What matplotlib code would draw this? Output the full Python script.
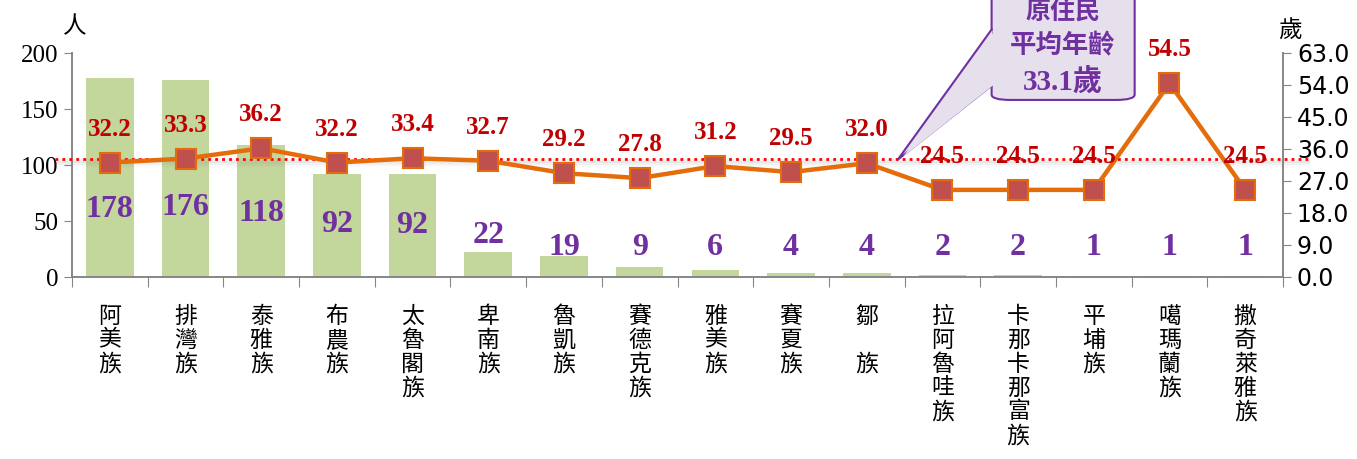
import matplotlib
matplotlib.use('Agg')
import matplotlib.pyplot as plt
from matplotlib.patches import FancyBboxPatch, Polygon

# data
tribes = ['阿美族', '排灣族', '泰雅族', '布農族', '太魯閣族', '卑南族', '魯凱族', '賽德克族',
          '雅美族', '賽夏族', '鄒\u3000族', '拉阿魯哇族', '卡那卡那富族', '平埔族', '噶瑪蘭族', '撒奇萊雅族']
people = [178, 176, 118, 92, 92, 22, 19, 9, 6, 4, 4, 2, 2, 1, 1, 1]
avg_age = [32.2, 33.3, 36.2, 32.2, 33.4, 32.7, 29.2, 27.8, 31.2, 29.5, 32.0, 24.5, 24.5, 24.5, 54.5, 24.5]
overall_avg = 33.1
left_ticks = [0, 50, 100, 150, 200]
right_ticks = [0, 9, 18, 27, 36, 45, 54, 63]

# where the purple count labels sit (left axis units), layout only
label_y = [60, 62, 57, 47, 46, 37, 26, 26, 26, 26, 26, 26, 26, 26, 26, 26]

CJK = ['Noto Sans CJK TC', 'DejaVu Sans']
SERIF_CJK = ['Liberation Serif', 'Noto Sans CJK TC']
SERIF = 'Liberation Serif'
purple = '#7030a0'
darkred = '#c00000'

fig = plt.figure(figsize=(13.57, 4.59), dpi=100)
ax = fig.add_axes([72/1357, 1 - 277/459, (1283-72)/1357, (277-53)/459])
ax2 = ax.twinx()

x = list(range(len(tribes)))
ax.bar(x, people, width=0.63, color='#c3d69b', zorder=1)
for i in x:
    ax.text(i, label_y[i], str(people[i]), ha='center', va='center', color=purple,
            fontsize=23, fontweight='bold', family=SERIF, zorder=5)

ax.set_xlim(-0.5, len(tribes) - 0.5)
ax.set_ylim(0, 200)
ax.set_yticks(left_ticks)
ax.set_yticklabels([str(t) for t in left_ticks], family=SERIF, fontsize=18)
ax.set_xticks([i - 0.5 for i in range(len(tribes) + 1)])
ax.set_xticklabels([])
ax.set_xticks(x, minor=True)
ax.set_xticklabels(['\n'.join(t) for t in tribes], minor=True, family=CJK, fontsize=16.5,
                   va='top', linespacing=1.05)
ax.tick_params(axis='x', which='minor', length=0, pad=20)
ax.tick_params(axis='x', which='major', length=7, color='#868686')
ax.tick_params(axis='y', length=6, color='#868686', pad=4)

ax2.set_ylim(0, 63)
ax2.set_yticks(right_ticks)
ax2.set_yticklabels(['%.1f' % t for t in right_ticks], family='DejaVu Sans', fontsize=17)
ax2.tick_params(axis='y', length=6, color='#868686', pad=4)

for a in (ax, ax2):
    a.spines['top'].set_visible(False)
    for s in ('left', 'right', 'bottom'):
        a.spines[s].set_color('#868686')
        a.spines[s].set_linewidth(1.2)

# average line with faint shadow
for k, al in enumerate([0.10, 0.07, 0.04]):
    ax2.plot([-0.72, 15.86], [overall_avg - 0.6 - 0.5*k]*2, color='gray', lw=3, alpha=al,
             clip_on=False, zorder=2, solid_capstyle='butt')
ax2.plot([-0.72, 15.86], [overall_avg, overall_avg], color='#ff0000', lw=2, ls=(0, (1, 1.5)),
         clip_on=False, zorder=3)

ax2.plot(x, avg_age, color='#e46c0a', lw=3.2, marker='s', markersize=14.5,
         markerfacecolor='#c0504d', markeredgecolor='#e46c0a', markeredgewidth=1.5, zorder=4)
for i in x:
    ax2.annotate('%.1f' % avg_age[i], (i, avg_age[i]), xytext=(0, 24), textcoords='offset points',
                 ha='center', va='center', color=darkred, fontsize=18, fontweight='bold',
                 family=SERIF, zorder=6)

# callout box
box = FancyBboxPatch((11.65, 49.8), 1.89, 32, boxstyle='round,pad=0,rounding_size=0.25',
                     mutation_aspect=6, facecolor='#e6e0ec', edgecolor=purple, lw=1.5,
                     clip_on=False, zorder=7)
ax2.add_patch(box)
ptr = Polygon([(11.66, 69.9), (10.41, 33.0), (11.66, 54.0)], closed=False, facecolor='#e6e0ec',
              edgecolor=purple, lw=1.5, clip_on=False, zorder=8)
ax2.add_patch(ptr)
ax2.add_patch(Polygon([(11.70, 69.5), (10.48, 33.8), (11.70, 54.4)], closed=True,
                      facecolor='#e6e0ec', edgecolor='none', clip_on=False, zorder=9))
ax2.text(12.59, 74.4, '原住民', ha='center', va='center', color=purple, fontsize=18,
         fontweight='bold', family=CJK, zorder=10, clip_on=False)
ax2.text(12.59, 64.9, '平均年齡', ha='center', va='center', color=purple, fontsize=19,
         fontweight='bold', family=CJK, zorder=10)
ax2.text(12.59, 54.6, '33.1歲', ha='center', va='center', color=purple, fontsize=21,
         fontweight='bold', family=SERIF_CJK, zorder=10)

fig.text(75/1357, 1 - 27/459, '人', family=CJK, fontsize=17, ha='center', va='center')
fig.text(1290/1357, 1 - 30/459, '歲', family=CJK, fontsize=17, ha='center', va='center')

fig.savefig('out.png', dpi=100)
